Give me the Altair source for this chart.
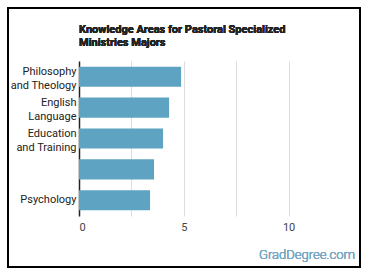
import altair as alt
import pandas as pd

categories = ["Philosophy|and Theology", "English|Language", "Education|and Training", " ", "Psychology"]
values = [4.87, 4.30, 4.01, 3.58, 3.39]
x_ticks = [0, 2.5, 5, 7.5, 10]
title_lines = ["Knowledge Areas for Pastoral Specialized", "Ministries Majors"]
watermark = "GradDegree.com"

df = pd.DataFrame({"area": categories, "value": values})

bars = alt.Chart(df).mark_bar(color="#5ea3c1").encode(
    x=alt.X("value:Q", scale=alt.Scale(domain=[0, 12.5], nice=False),
            axis=alt.Axis(values=x_ticks, title=None, grid=True, gridColor="#dddddd",
                          domain=False, ticks=False, labelPadding=5,
                          labelExpr="datum.value % 5 == 0 ? datum.label : ''",
                          labelFontSize=11, labelColor="#444444", labelFont="Roboto")),
    y=alt.Y("area:N", sort=categories, scale=alt.Scale(paddingInner=0.35, paddingOuter=0.185),
            axis=alt.Axis(title=None, ticks=False, domain=True, domainColor="#222222",
                          domainWidth=1.5, labelPadding=3, labelFontSize=11,
                          labelColor="#222222", labelFont="Roboto", labelLineHeight=14,
                          labelOffset={"condition": {"test": "indexof(datum.value, '|') >= 0", "value": -5}, "value": 0},
                          labelExpr="split(datum.label, '|')")),
)

frame = alt.Chart(df).mark_rect(filled=False, stroke="#000000", strokeWidth=2, clip=False).encode(
    x=alt.value(-71), x2=alt.value(281), y=alt.value(-53), y2=alt.value(206)
)

title1 = alt.Chart(df).mark_text(align="left", baseline="alphabetic", fontSize=11, font="Roboto",
                                 fontWeight="bold", color="#222222", clip=False).encode(
    x=alt.value(0), y=alt.value(-28.5), text=alt.value(title_lines[0])
)
title2 = alt.Chart(df).mark_text(align="left", baseline="alphabetic", fontSize=11, font="Roboto",
                                 fontWeight="bold", color="#222222", clip=False).encode(
    x=alt.value(0), y=alt.value(-15), text=alt.value(title_lines[1])
)

wm = alt.Chart(df).mark_text(align="right", baseline="middle", fontSize=13, font="Roboto",
                             fontWeight=300, color="#7aa8c4", clip=False).encode(
    x=alt.value(276), y=alt.value(194), text=alt.value(watermark)
)

chart = alt.layer(bars, frame, title1, title2, wm).properties(
    width=262, height=155,
    autosize=alt.AutoSizeParams(type="none"),
    padding={"left": 79, "top": 61, "right": 29, "bottom": 62},
    background="white",
).configure_view(stroke=None)

chart.save("out.html", embed_options={"renderer": "svg", "actions": False})
